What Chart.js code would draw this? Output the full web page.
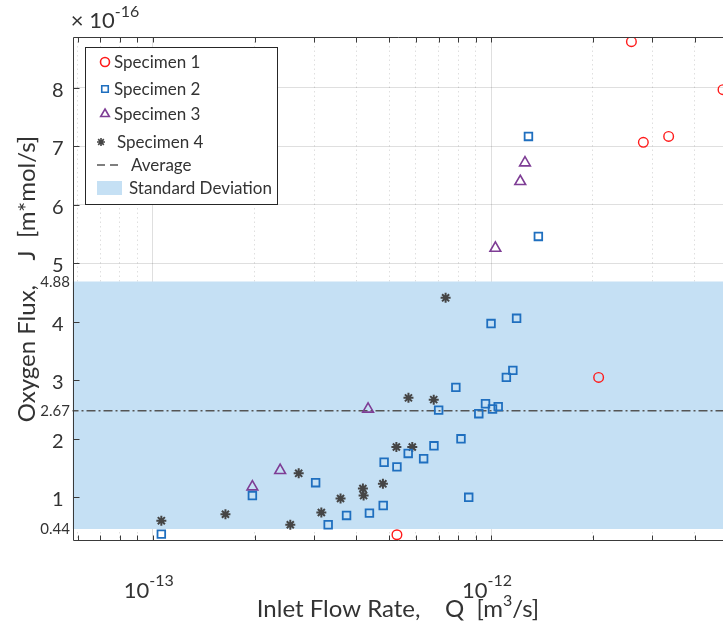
<!DOCTYPE html>
<html>
<head>
<meta charset="utf-8">
<script src="https://cdn.jsdelivr.net/npm/chart.js@4.4.1/dist/chart.umd.min.js"></script>
<style>
  html, body { margin: 0; padding: 0; background: #fff; overflow: hidden; }
  #wrap { width: 723px; height: 629px; }
</style>
</head>
<body>
<div id="wrap"><canvas id="fluxChart" width="723" height="629"></canvas></div>
<script>
// inlet flow rate Q [m^3/s] and oxygen flux J [x 1e-16 m*mol/s] for each specimen
const spec1Q = [2.60e-12, 4.85e-12, 2.82e-12, 3.35e-12, 2.08e-12, 5.27e-13];
const spec1J = [8.79, 7.97, 7.07, 7.17, 3.05, 0.36];

const spec2Q = [1.06e-13, 1.97e-13, 3.03e-13, 3.30e-13, 3.74e-13, 4.37e-13, 4.80e-13, 4.83e-13,
                5.27e-13, 5.69e-13, 6.32e-13, 6.78e-13, 7.00e-13, 7.87e-13, 8.15e-13, 8.59e-13,
                9.20e-13, 9.63e-13, 1.00e-12, 1.01e-12, 1.05e-12, 1.11e-12, 1.16e-12, 1.19e-12,
                1.29e-12, 1.38e-12];
const spec2J = [0.37, 1.03, 1.25, 0.53, 0.69, 0.73, 0.86, 1.60,
                1.52, 1.75, 1.66, 1.88, 2.49, 2.88, 2.00, 1.00,
                2.43, 2.60, 3.97, 2.51, 2.55, 3.05, 3.17, 4.06,
                7.17, 5.46];

const spec3Q = [1.97e-13, 2.38e-13, 4.33e-13, 1.03e-12, 1.22e-12, 1.26e-12];
const spec3J = [1.18, 1.46, 2.51, 5.26, 6.40, 6.72];

const spec4Q = [1.06e-13, 1.64e-13, 2.55e-13, 2.70e-13, 3.15e-13, 3.59e-13, 4.18e-13, 4.20e-13,
                4.79e-13, 5.25e-13, 5.70e-13, 5.85e-13, 6.77e-13, 7.34e-13];
const spec4J = [0.60, 0.71, 0.53, 1.41, 0.74, 0.98, 1.15, 1.03,
                1.23, 1.86, 2.70, 1.86, 2.67, 4.41];

// average and standard deviation band (where they sit on the axis) and their labels
const avgFlux = 2.48;
const sdLow = 0.46;
const sdHigh = 4.69;
const yExtraTicks = [0.46, 2.48, 4.69];
const yExtraLabels = ['0.44', '2.67', '4.88'];

// axis ticks
const xTicks = [6e-14, 7e-14, 8e-14, 9e-14, 1e-13, 2e-13, 3e-13, 4e-13, 5e-13, 6e-13, 7e-13, 8e-13, 9e-13,
                1e-12, 2e-12, 3e-12, 4e-12];
const xLabelTicks = [1e-13, 1e-12];
const xLabelExps = ['-13', '-12'];
const yTicks = [1, 2, 3, 4, 5, 6, 7, 8];

const font = 'Lato, "Liberation Sans", sans-serif';
const axisColor = '#3a3a3a';
const textColor = '#333333';
const gridColor = 'rgba(38,38,38,0.15)';
const bandColor = '#c5e0f4';

const red = '#ff1a1a';
const blue = '#1f6fbf';
const purple = '#7e3d95';
const gray = '#454545';

function pts(xs, ys) {
  return xs.map((q, i) => ({ x: q, y: ys[i] }));
}
function isDecade(v) {
  const l = Math.log10(v);
  return Math.abs(l - Math.round(l)) < 1e-6;
}

// draws text made of several runs (for superscripts), centred on cx
function drawRuns(ctx, runs, cx, baseY) {
  let total = 0;
  runs.forEach(r => { ctx.font = r.size + 'px ' + font; r.w = ctx.measureText(r.t).width; total += r.w; });
  let x = cx - total / 2;
  ctx.textAlign = 'left';
  ctx.textBaseline = 'alphabetic';
  runs.forEach(r => {
    ctx.font = r.size + 'px ' + font;
    ctx.fillText(r.t, x, baseY + (r.dy || 0));
    x += r.w;
  });
}

const legendItems = [
  { label: 'Specimen 1', kind: 'point', style: 'circle', color: red, radius: 4.5, mx: 105, y: 62, tx: 114 },
  { label: 'Specimen 2', kind: 'point', style: 'rect', color: blue, radius: 4.6, mx: 105, y: 89, tx: 114 },
  { label: 'Specimen 3', kind: 'point', style: 'triangle', color: purple, radius: 5, mx: 105, y: 114, tx: 114 },
  { label: 'Specimen 4', kind: 'point', style: 'star', color: gray, radius: 4, mx: 101, y: 142, tx: 117 },
  { label: 'Average', kind: 'line', color: '#555', y: 165, tx: 131 },
  { label: 'Standard Deviation', kind: 'patch', color: bandColor, y: 188, tx: 129 }
];

const matlabLook = {
  id: 'matlabLook',
  afterDraw(chart) {
    const { ctx, chartArea: a, scales } = chart;
    const xs = scales.x, ys = scales.y;
    const L = Math.round(a.left) + 0.5, T = Math.round(a.top) + 0.5, B = Math.round(a.bottom) + 0.5;
    ctx.save();

    // axis lines and inward ticks
    ctx.strokeStyle = axisColor;
    ctx.lineWidth = 1;
    ctx.beginPath();
    ctx.moveTo(a.right, T); ctx.lineTo(L, T); ctx.lineTo(L, B); ctx.lineTo(a.right, B);
    xTicks.forEach(v => {
      const px = Math.round(xs.getPixelForValue(v)) + 0.5;
      ctx.moveTo(px, B); ctx.lineTo(px, B - 5);
      ctx.moveTo(px, T); ctx.lineTo(px, T + 5);
    });
    yTicks.forEach(v => {
      const py = Math.round(ys.getPixelForValue(v)) + 0.5;
      ctx.moveTo(L, py); ctx.lineTo(L + 6, py);
    });
    ctx.stroke();

    // y tick labels
    ctx.fillStyle = textColor;
    ctx.textAlign = 'right';
    ctx.textBaseline = 'alphabetic';
    ctx.font = '20px ' + font;
    yTicks.forEach(v => ctx.fillText(String(v), 63.5, ys.getPixelForValue(v) + 9));
    ctx.font = '15px ' + font;
    yExtraTicks.forEach((v, i) => ctx.fillText(yExtraLabels[i], 70, ys.getPixelForValue(v) + 5.5));

    // x tick labels 10^n
    xLabelTicks.forEach((v, i) => {
      drawRuns(ctx, [{ t: '10', size: 22 }, { t: xLabelExps[i], size: 16, dy: -12 }],
        xs.getPixelForValue(v) - 4, 598);
    });

    // exponent multiplier
    drawRuns(ctx, [{ t: '\u00d7 10', size: 22 }, { t: '-16', size: 16, dy: -11 }], 105, 28);

    // axis titles
    drawRuns(ctx, [{ t: 'Inlet Flow Rate,    Q  [m', size: 24 }, { t: '3', size: 16, dy: -11 }, { t: '/s]', size: 24 }],
      398, 617);
    ctx.save();
    ctx.translate(35, 279);
    ctx.rotate(-Math.PI / 2);
    drawRuns(ctx, [{ t: 'Oxygen Flux,    J  [m*mol/s]', size: 24 }], 0, 0);
    ctx.restore();

    // legend box
    ctx.fillStyle = '#ffffff';
    ctx.fillRect(85.5, 47.5, 192, 157);
    ctx.strokeStyle = '#262626';
    ctx.lineWidth = 1;
    ctx.strokeRect(85.5, 47.5, 192, 157);
    legendItems.forEach(it => {
      if (it.kind === 'point') {
        ctx.strokeStyle = it.color;
        ctx.fillStyle = 'rgba(0,0,0,0)';
        ctx.lineWidth = 1.6;
        Chart.helpers.drawPoint(ctx, { pointStyle: it.style, radius: it.radius, rotation: 0, borderWidth: 1.6 }, it.mx, it.y);
      } else if (it.kind === 'line') {
        ctx.strokeStyle = it.color;
        ctx.lineWidth = 1.6;
        ctx.setLineDash([8, 5]);
        ctx.beginPath(); ctx.moveTo(97, it.y); ctx.lineTo(122, it.y); ctx.stroke();
        ctx.setLineDash([]);
      } else {
        ctx.fillStyle = it.color;
        ctx.fillRect(97, it.y - 7, 25, 14);
      }
      ctx.fillStyle = textColor;
      ctx.font = '17px ' + font;
      ctx.textAlign = 'left';
      ctx.textBaseline = 'middle';
      ctx.fillText(it.label, it.tx, it.y + 1);
    });
    ctx.restore();
  }
};

const marker = (label, q, j, style, color, radius, width) => ({
  type: 'scatter',
  label: label,
  data: pts(q, j),
  pointStyle: style,
  pointRadius: radius,
  pointBorderColor: color,
  pointBackgroundColor: 'rgba(0,0,0,0)',
  pointBorderWidth: width,
  showLine: false,
  order: 0
});

new Chart(document.getElementById('fluxChart'), {
  type: 'scatter',
  data: {
    datasets: [
      marker('Specimen 1', spec1Q, spec1J, 'circle', red, 4.8, 1.4),
      marker('Specimen 2', spec2Q, spec2J, 'rect', blue, 5.4, 1.8),
      marker('Specimen 3', spec3Q, spec3J, 'triangle', purple, 6.2, 1.6),
      marker('Specimen 4', spec4Q, spec4J, 'star', gray, 5, 2),
      {
        type: 'line',
        label: 'Average',
        data: [{ x: 1e-14, y: avgFlux }, { x: 1e-11, y: avgFlux }],
        borderColor: '#555555',
        borderWidth: 1.5,
        borderDash: [9, 3, 2, 3],
        pointRadius: 0,
        fill: false,
        order: 5
      },
      {
        type: 'line',
        label: 'Standard Deviation',
        data: [{ x: 1e-14, y: sdHigh }, { x: 1e-11, y: sdHigh }],
        borderWidth: 0,
        pointRadius: 0,
        backgroundColor: bandColor,
        fill: { value: sdLow },
        order: 10
      }
    ]
  },
  options: {
    responsive: false,
    animation: false,
    layout: { autoPadding: false, padding: { top: 37, left: 0, right: 0, bottom: 0 } },
    plugins: { legend: { display: false }, tooltip: { enabled: false } },
    scales: {
      x: {
        type: 'logarithmic',
        min: 5.79e-14,
        max: 4.85e-12,
        z: 1,
        afterBuildTicks: s => { s.ticks = xTicks.map(v => ({ value: v })); },
        afterFit: s => { s.height = 89; },
        ticks: { display: false },
        grid: { color: gridColor, lineWidth: 1, drawTicks: false },
        border: { display: false, dash: c => (c.tick && isDecade(c.tick.value)) ? [] : [1.5, 3] }
      },
      y: {
        type: 'linear',
        min: 0.27,
        max: 8.87,
        z: 1,
        afterBuildTicks: s => { s.ticks = yTicks.map(v => ({ value: v })); },
        afterFit: s => { s.width = 72.5; },
        ticks: { display: false },
        grid: { color: gridColor, lineWidth: 1, drawTicks: false },
        border: { display: false }
      }
    }
  },
  plugins: [matlabLook]
});
</script>
</body>
</html>
